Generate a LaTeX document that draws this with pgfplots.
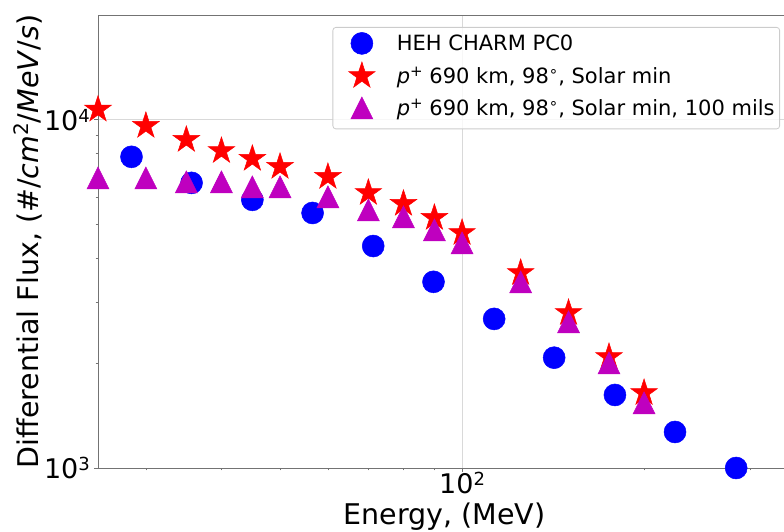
\documentclass[border=0pt]{standalone}
\usepackage{fontspec}
\setmainfont{DejaVu Sans}
\usepackage{pgfplots}
\pgfplotsset{compat=1.18}
\definecolor{mplm}{RGB}{191,0,191}
\newcommand{\sups}[3]{\raisebox{#2}{\fontsize{#1}{#1}\selectfont #3}}
\pgfdeclareplotmark{fstar}{%
  \pgfpathmoveto{\pgfpointpolar{90}{\pgfplotmarksize}}%
  \pgfpathlineto{\pgfpointpolar{126}{0.382\pgfplotmarksize}}%
  \pgfpathlineto{\pgfpointpolar{162}{\pgfplotmarksize}}%
  \pgfpathlineto{\pgfpointpolar{198}{0.382\pgfplotmarksize}}%
  \pgfpathlineto{\pgfpointpolar{234}{\pgfplotmarksize}}%
  \pgfpathlineto{\pgfpointpolar{270}{0.382\pgfplotmarksize}}%
  \pgfpathlineto{\pgfpointpolar{306}{\pgfplotmarksize}}%
  \pgfpathlineto{\pgfpointpolar{342}{0.382\pgfplotmarksize}}%
  \pgfpathlineto{\pgfpointpolar{18}{\pgfplotmarksize}}%
  \pgfpathlineto{\pgfpointpolar{54}{0.382\pgfplotmarksize}}%
  \pgfpathclose\pgfusepathqfillstroke}
\pgfdeclareplotmark{mtri}{%
  \pgfpathmoveto{\pgfqpoint{0pt}{\pgfplotmarksize}}%
  \pgfpathlineto{\pgfqpoint{-\pgfplotmarksize}{-\pgfplotmarksize}}%
  \pgfpathlineto{\pgfqpoint{\pgfplotmarksize}{-\pgfplotmarksize}}%
  \pgfpathclose\pgfusepathqfillstroke}
\pgfplotsset{mylegend/.style={legend image code/.code={%
  \path[fill=none,draw=none] (0pt,-18.5pt) rectangle (59pt,13.5pt);
  \draw[##1, fill opacity=1, draw opacity=1] plot coordinates {(24pt,0pt)};}}}
\begin{document}
\begin{tikzpicture}
\path[use as bounding box] (0,0) rectangle (784pt,531pt);
\begin{axis}[
  at={(98pt,63pt)}, anchor=south west,
  scale only axis, width=693pt, height=453pt,
  xmode=log, ymode=log,
  xmin=25, xmax=350, ymin=1000, ymax=20000,
  xtick={100}, xticklabels={10\sups{18pt}{8pt}{2}},
  ytick={1000,10000}, yticklabels={10\sups{18pt}{8pt}{3},10\sups{18pt}{8pt}{4}},
  minor xtick={30,40,50,60,70,80,90,200,300},
  minor ytick={2000,3000,4000,5000,6000,7000,8000,9000},
  xtick pos=bottom, ytick pos=left,
  tick align=outside,
  major tick length=4pt, minor tick length=2.5pt,
  tick style={black!55, line width=0.7pt},
  axis line style={black!55, line width=0.9pt},
  grid=major,
  major grid style={black!15, line width=0.9pt},
  ticklabel style={font=\fontsize{27}{27}\selectfont},
  yticklabel style={anchor=east, inner sep=0pt, xshift=-4pt},
  xticklabel style={anchor=north, inner sep=0pt},
  every axis x label/.style={at={(axis description cs:0.5,-0.1258)}, anchor=base, inner sep=0pt, font=\fontsize{28.5}{30}\selectfont},
  every axis y label/.style={at={(axis description cs:-0.0866,0.5)}, rotate=90, anchor=base, inner sep=0pt, font=\fontsize{28.5}{30}\selectfont},
  xlabel={Energy, (MeV)},
  ylabel={Differential Flux, (\#/\textit{cm}\sups{20pt}{9.5pt}{2}/\textit{MeV}/\textit{s})},
  legend cell align=left,
  legend style={at={(axis description cs:0.98413,0.97351)}, anchor=north east,
    draw=black!20, line width=0.8pt, rounded corners=3pt, fill=white, fill opacity=0.8, text opacity=1,
    inner xsep=5pt, inner ysep=2.5pt, row sep=0pt, column sep=0pt,
    font=\fontsize{21}{21}\selectfont,
    nodes={inner sep=0pt, text height=17pt, text depth=2pt}},
]
\addplot[only marks, mark=*, mark size=11pt, color=blue, fill=blue, line width=0.5pt, mylegend] coordinates {
(28.4,7830) (35.7,6590) (45.0,5890) (56.6,5400) (71.3,4340) (89.7,3425)
(113,2680) (142,2074) (179,1621) (225,1269) (284,1000)};
\addlegendentry{HEH CHARM PC0}
\addplot[only marks, mark=fstar, mark size=14pt, color=red, fill=red, line width=0.5pt, mylegend] coordinates {
(25,10700) (30,9610) (35,8760) (40,8140) (45,7730) (50,7330) (60,6860) (70,6170)
(80,5740) (90,5230) (100,4735) (125,3633) (150,2789) (175,2084) (200,1643)};
\addlegendentry{\textit{p}\sups{15pt}{7pt}{+} 690 km, 98\sups{15pt}{7pt}{∘}, Solar min}
\addplot[only marks, mark=mtri, mark size=11pt, color=mplm, fill=mplm, line width=0.5pt, mylegend] coordinates {
(25,6810) (30,6810) (35,6635) (40,6635) (45,6420) (50,6420) (60,6010) (70,5510)
(80,5263) (90,4830) (100,4430) (125,3425) (150,2630) (175,2003) (200,1538)};
\addlegendentry{\textit{p}\sups{15pt}{7pt}{+} 690 km, 98\sups{15pt}{7pt}{∘}, Solar min, 100 mils}
\end{axis}
\end{tikzpicture}
\end{document}
